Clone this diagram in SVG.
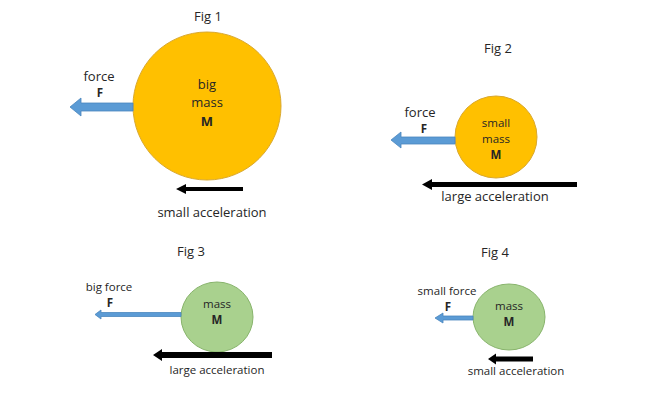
<svg xmlns="http://www.w3.org/2000/svg" width="657" height="402" viewBox="0 0 657 402">
<style>
text{font-family:"Open Sans","Liberation Sans",sans-serif;fill:#262626;text-anchor:middle}
.t{font-size:13px}
.s{font-size:11.5px}
.b{font-weight:bold}
.orange{fill:#FFC000;stroke:#D9A82E;stroke-width:1}
.green{fill:#A9D18E;stroke:#88B46C;stroke-width:1}
.force{fill:#5B9BD5;stroke:#4A86BE;stroke-width:0.8}
.acc{fill:#000}
</style>
<rect width="657" height="402" fill="#fff"/>
<g id="fig1">
<text class="t" x="208" y="21">Fig 1</text>
<circle class="orange" cx="207" cy="106" r="74"/>
<text class="t" x="207" y="89">big</text>
<text class="t" x="207" y="107">mass</text>
<text class="t b" x="207" y="126">M</text>
<text class="t" x="99" y="81">force</text>
<text class="s b" x="100" y="97">F</text>
</g>
<g id="fig2">
<text class="t" x="498" y="53">Fig 2</text>
<circle class="orange" cx="496" cy="137" r="41"/>
<text class="s" x="496" y="127">small</text>
<text class="s" x="496" y="143">mass</text>
<text class="s b" x="496" y="159">M</text>
<text class="t" x="420" y="117">force</text>
<text class="s b" x="424" y="133">F</text>
</g>
<g id="fig3">
<text class="t" x="191" y="256">Fig 3</text>
<ellipse class="green" cx="217" cy="317" rx="36" ry="35"/>
<text class="s" x="217" y="308">mass</text>
<text class="s b" x="217" y="324">M</text>
<text class="s" x="109" y="291">big force</text>
<text class="s b" x="110" y="307">F</text>
</g>
<g id="fig4">
<text class="t" x="495" y="257">Fig 4</text>
<ellipse class="green" cx="509" cy="317" rx="36" ry="33"/>
<text class="s" x="509" y="310">mass</text>
<text class="s b" x="509" y="326">M</text>
<text class="s" x="447" y="295">small force</text>
<text class="s b" x="448" y="311">F</text>
</g>
<g id="connectors">
<path class="force" d="M133,103 L81,103 L81,98 L70,107 L81,116 L81,111 L133,111 Z"/>
<path class="acc" d="M243,187 L186,187 L186,184 L176,189 L186,194 L186,191 L243,191 Z"/>
<path class="force" d="M455,137 L401,137 L401,132 L391,140 L401,148 L401,144 L455,144 Z"/>
<path class="acc" d="M577,182 L432,182 L432,179 L422,184.5 L432,190 L432,187 L577,187 Z"/>
<path class="force" d="M181,312.5 L101,312.5 L101,310 L95,314.5 L101,319 L101,316.5 L181,316.5 Z"/>
<path class="acc" d="M272,352 L162,352 L162,349 L153,355 L162,361 L162,358 L272,358 Z"/>
<path class="force" d="M473,316 L443,316 L443,313 L435,318 L443,323 L443,320 L473,320 Z"/>
<path class="acc" d="M533,356.5 L496,356.5 L496,353.5 L488,359 L496,364.5 L496,361.5 L533,361.5 Z"/>
</g>
<g id="labels">
<text class="t" x="212" y="217">small acceleration</text>
<text class="t" x="495" y="201">large acceleration</text>
<text class="s" x="217" y="374">large acceleration</text>
<text class="s" x="516" y="375">small acceleration</text>
</g>
</svg>
